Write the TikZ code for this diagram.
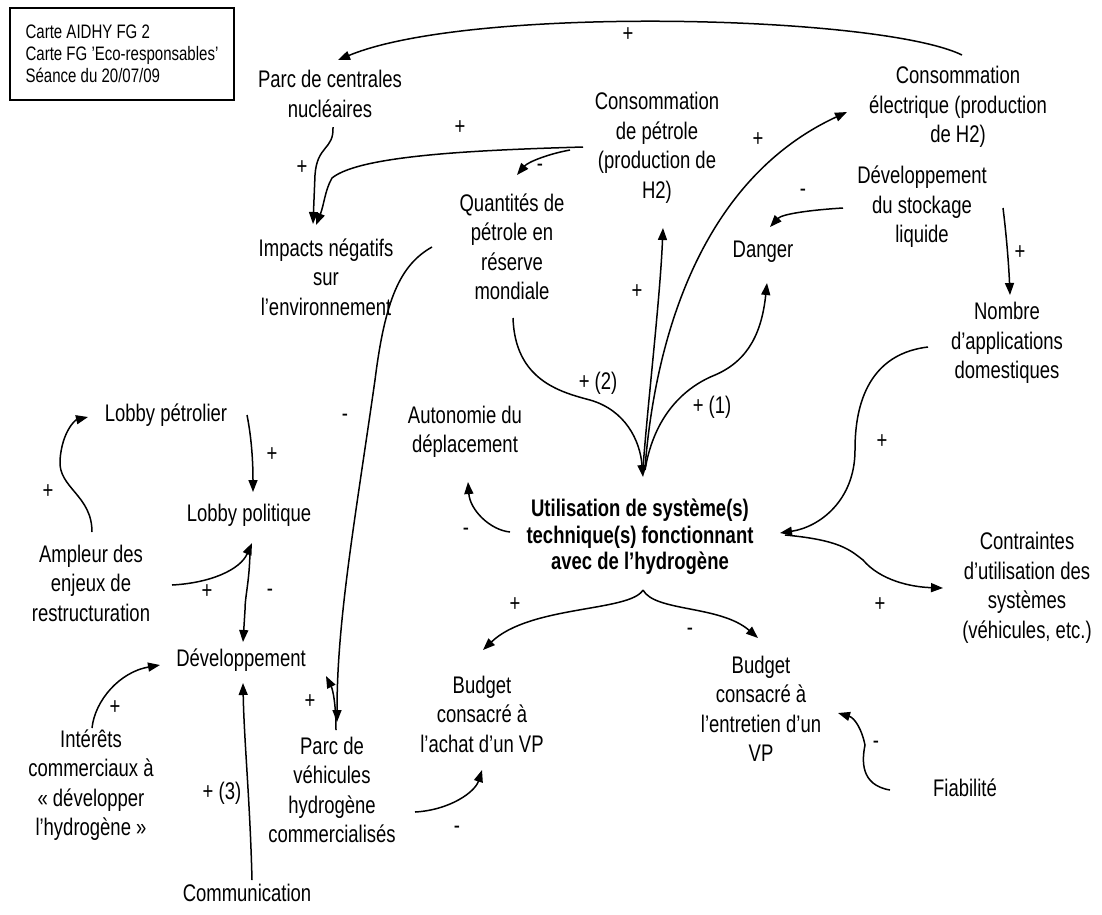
\documentclass[tikz,border=0pt]{standalone}
\usepackage{fontspec}
\setmainfont{Liberation Sans}[FakeStretch=0.77]
\usetikzlibrary{arrows.meta,calc}
\begin{document}
\begin{tikzpicture}[x=1pt,y=-1pt,
  txt/.style={font=\fontsize{24}{29.5}\selectfont, align=center, inner sep=1pt},
  bold/.style={font=\fontsize{24}{26.5}\selectfont\bfseries, align=center, inner sep=1pt},
  sgn/.style={font=\fontsize{24}{26}\selectfont, inner sep=0pt},
  arr/.style={-{Triangle[length=12pt,width=9pt]}, line width=1.5pt},
  ln/.style={line width=1.5pt}]
\useasboundingbox[fill=white] (0,0) rectangle (1102,914);

% title box
\node[draw, line width=1.3pt, minimum width=224, minimum height=92, align=left,
  font=\fontsize{19.5}{22}\selectfont, inner sep=0pt] (box) at (122,54)
  {Carte AIDHY FG 2\\Carte FG 'Eco-responsables'\\Séance du 20/07/09};

% nodes
\node[txt] (parc) at (330,94) {Parc de centrales\\nucléaires};
\node[txt] (cpet) at (657,148) {Consommation\\de pétrole\\(production de\\H2)};
\node[txt] (quant) at (512,247) {Quantités de\\pétrole en\\réserve\\mondiale};
\node[txt] (imp) at (326,277) {Impacts négatifs\\sur\\l’environnement};
\node[txt] (elec) at (958,107) {Consommation\\électrique (production\\de H2)};
\node[txt] (stock) at (922,207) {Développement\\du stockage\\liquide};
\node[txt] (danger) at (763,252) {Danger};
\node[txt] (nombre) at (1007,343) {Nombre\\d’applications\\domestiques};
\node[txt] (auto) at (465,432) {Autonomie du\\déplacement};
\node[bold] (util) at (640,537) {Utilisation de système(s)\\technique(s) fonctionnant\\avec de l’hydrogène};
\node[txt] (contr) at (1027,588) {Contraintes\\d’utilisation des\\systèmes\\(véhicules, etc.)};
\node[txt] (bachat) at (482,714) {Budget\\consacré à\\l’achat d’un VP};
\node[txt] (bentr) at (761,709) {Budget\\consacré à\\l’entretien d’un\\VP};
\node[txt] (fiab) at (965,788) {Fiabilité};
\node[txt] (pveh) at (332,790) {Parc de\\véhicules\\hydrogène\\commercialisés};
\node[txt] (comm) at (247,893) {Communication};
\node[txt] (dev) at (241,660) {Développement};
\node[txt] (intr) at (91,785) {Intérêts\\commerciaux à\\« développer\\l’hydrogène »};
\node[txt] (ampl) at (91,583) {Ampleur des\\enjeux de\\restructuration};
\node[txt] (lpet) at (166,415) {Lobby pétrolier};
\node[txt] (lpol) at (249,515) {Lobby politique};

% connectors
\draw[arr] ($(elec)+(4,-52)$) .. controls (880,15) and (470,5) .. ($(parc)+(8,-34)$);
\draw[arr] ($(parc)+(3,33)$) .. controls (334,150) and (317,145) .. (315,175) -- ($(imp)+(-13,-53)$);
\draw[arr] ($(cpet)+(-74,-1)$) .. controls (480,150) and (360,155) .. (332,178) .. controls (325,190) and (324,205) .. ($(imp)+(-10,-52)$);
\draw[arr] ($(cpet)+(-87,2)$) .. controls (548,154) and (528,162) .. ($(quant)+(5,-72)$);
\draw[arr] ($(quant)+(1,71)$) .. controls (515,380) and (560,392) .. (590,400) .. controls (625,410) and (640,440) .. ($(util)+(3,-60)$);
\draw[arr] ($(util)+(3,-69)$) .. controls (648,400) and (660,300) .. ($(cpet)+(6,80)$);
\draw[arr] ($(util)+(5,-69)$) .. controls (655,340) and (700,180) .. ($(elec)+(-111,5)$);
\draw[arr] ($(util)+(5,-67)$) .. controls (655,410) and (690,385) .. (715,375) .. controls (750,360) and (762,330) .. ($(danger)+(4,31)$);
\draw[arr] ($(stock)+(-79,1)$) .. controls (810,210) and (782,214) .. ($(danger)+(7,-25)$);
\draw[arr] ($(stock)+(81,1)$) .. controls (1007,240) and (1009,270) .. ($(nombre)+(3,-48)$);
\draw[arr] ($(nombre)+(-79,4)$) .. controls (860,355) and (855,420) .. (855,450) .. controls (855,500) and (820,527) .. ($(util)+(140,-4)$);
\draw[arr] ($(util)+(145,-2)$) .. controls (840,540) and (850,550) .. (863,560) .. controls (880,580) and (910,587) .. ($(contr)+(-84,0)$);
\draw[arr] ($(util)+(-130,-5)$) .. controls (490,530) and (470,510) .. ($(auto)+(3,50)$);
\draw[arr] ($(util)+(3,53)$) .. controls (630,612) and (530,605) .. ($(bachat)+(1,-64)$);
\draw[arr] ($(util)+(3,53)$) .. controls (655,612) and (720,605) .. ($(bentr)+(-3,-71)$);
\draw[arr] ($(fiab)+(-75,2)$) .. controls (860,785) and (862,760) .. (865,745) .. controls (862,730) and (855,718) .. ($(bentr)+(77,4)$);
\draw[arr] ($(pveh)+(83,22)$) .. controls (450,810) and (475,792) .. ($(bachat)+(0,56)$);
\draw[arr] ($(quant)+(-80,0)$) .. controls (400,265) and (385,300) .. (375,380) .. controls (355,520) and (337,620) .. ($(pveh)+(5,-68)$);
\draw[arr] ($(pveh)+(4,-60)$) .. controls (336,705) and (333,690) .. ($(dev)+(85,16)$);
\draw[arr] ($(lpet)+(81,0)$) .. controls (252,440) and (253,465) .. ($(lpol)+(4,-23)$);
\draw[arr] ($(ampl)+(1,-51)$) .. controls (92,495) and (58,488) .. (60,460) .. controls (62,432) and (75,420) .. ($(lpet)+(-78,2)$);
\draw[arr] ($(ampl)+(81,2)$) .. controls (210,583) and (240,570) .. ($(lpol)+(3,28)$);
\draw[arr] ($(lpol)+(1,32)$) .. controls (250,580) and (245,595) .. (245,610) -- ($(dev)+(2,-18)$);
\draw[arr] ($(intr)+(1,-57)$) .. controls (95,700) and (120,672) .. ($(dev)+(-81,5)$);
\draw[arr] ($(comm)+(5,-13)$) .. controls (250,800) and (244,740) .. ($(dev)+(2,23)$);

% signs
\node[sgn] (s1) at (628,35) {+};
\node[sgn] (s2) at (302,168) {+};
\node[sgn] (s3) at (460,128) {+};
\node[sgn] (s4) at (540,168) {-};
\node[sgn] (s5) at (598,383) {+ (2)};
\node[sgn] (s6) at (637,292) {+};
\node[sgn] (s7) at (758,140) {+};
\node[sgn] (s8) at (712,407) {+ (1)};
\node[sgn] (s9) at (803,193) {-};
\node[sgn] (s10) at (1020,253) {+};
\node[sgn] (s11) at (882,442) {+};
\node[sgn] (s12) at (880,605) {+};
\node[sgn] (s13) at (466,532) {-};
\node[sgn] (s14) at (515,605) {+};
\node[sgn] (s15) at (690,632) {-};
\node[sgn] (s16) at (876,745) {-};
\node[sgn] (s17) at (457,830) {-};
\node[sgn] (s18) at (345,418) {-};
\node[sgn] (s19) at (310,702) {+};
\node[sgn] (s20) at (272,455) {+};
\node[sgn] (s21) at (48,492) {+};
\node[sgn] (s22) at (207,592) {+};
\node[sgn] (s23) at (270,593) {-};
\node[sgn] (s24) at (115,708) {+};
\node[sgn] (s25) at (222,793) {+ (3)};
\end{tikzpicture}
\end{document}
